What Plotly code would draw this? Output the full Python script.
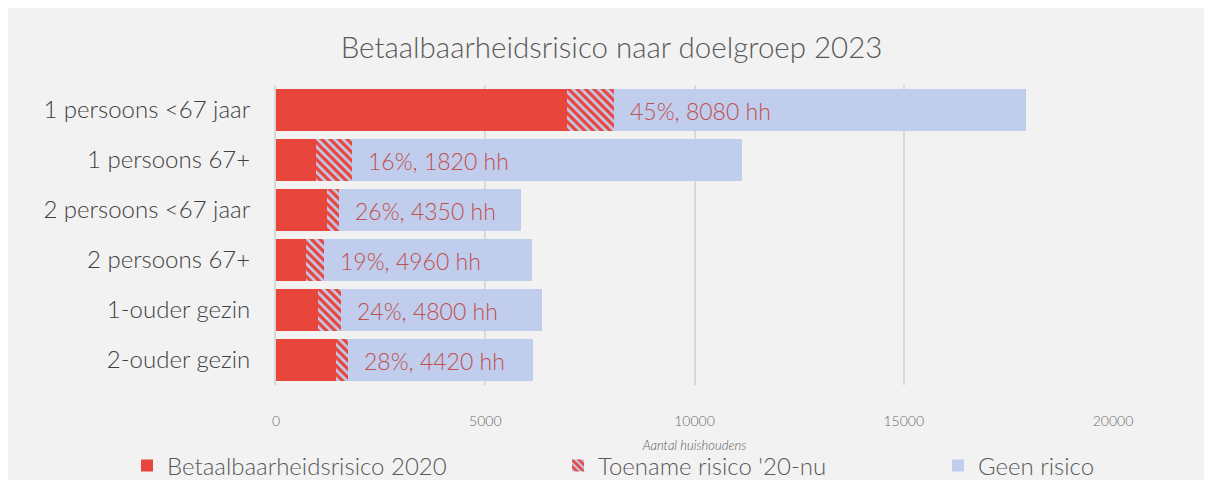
import plotly.graph_objects as go

categories = ["1 persoons <67 jaar", "1 persoons 67+", "2 persoons <67 jaar",
              "2 persoons 67+", "1-ouder gezin", "2-ouder gezin"]
risk_2020 = [6950, 960, 1220, 720, 1000, 1430]
increase = [1130, 860, 290, 430, 550, 290]
no_risk = [9840, 9320, 4350, 4960, 4800, 4420]
labels = ["45%, 8080 hh", "16%, 1820 hh", "26%, 4350 hh",
          "19%, 4960 hh", "24%, 4800 hh", "28%, 4420 hh"]
x_ticks = [0, 5000, 10000, 15000, 20000]
x_tick_text = ["0", "5000", "10000", "15000", "20000"]

RED = "#E8453C"
BLUE = "#C1CDED"
FONT = "Lato"

fig = go.Figure()
fig.add_trace(go.Bar(
    y=categories, x=risk_2020, orientation="h", name="Betaalbaarheidsrisico 2020",
    marker=dict(color=RED, line=dict(width=0)), legend="legend",
))
fig.add_trace(go.Bar(
    y=categories, x=increase, orientation="h", name="Toename risico '20-nu",
    marker=dict(color=BLUE, line=dict(width=0),
                pattern=dict(shape="\\", fgcolor=RED, bgcolor=BLUE, size=6,
                             solidity=0.55, fgopacity=1)),
    legend="legend2",
))
fig.add_trace(go.Bar(
    y=categories, x=no_risk, orientation="h", name="Geen risico",
    marker=dict(color=BLUE, line=dict(width=0)), legend="legend3",
))

for cat, r, inc, lab in zip(categories, risk_2020, increase, labels):
    fig.add_annotation(x=r + inc, y=cat, text=lab, showarrow=False,
                       xanchor="left", xshift=14, yshift=-1,
                       font=dict(family=FONT, size=23, color="#C0504D", weight=300))

# page body adds ~8px offset; layout coordinates below are figure coordinates
L, R, T, B = 268, 1105, 77, 377
W, H = 1212, 480

legend_common = dict(orientation="h", yanchor="middle", xanchor="left",
                     bgcolor="rgba(0,0,0,0)",
                     font=dict(family=FONT, size=24, color="#595959", weight=300),
                     itemwidth=30)

def lx(px):
    return (px - 8 - L) / float(R - L)

ly = (B - 458) / float(B - T)

fig.update_layout(
    width=W, height=H,
    paper_bgcolor="#F2F2F2", plot_bgcolor="#F2F2F2",
    barmode="stack", bargap=0.16,
    margin=dict(l=L, r=W - R, t=T, b=H - B, autoexpand=False),
    title=dict(text="Betaalbaarheidsrisico naar doelgroep 2023", x=0.498, xanchor="center",
               y=1 - 40 / 480, yanchor="middle",
               font=dict(family=FONT, size=29.5, color="#595959", weight=300)),
    xaxis=dict(range=[0, 20000], tickvals=x_ticks, ticktext=x_tick_text,
               showgrid=True, gridcolor="#D9D9D9",
               gridwidth=2, zeroline=False, showline=False, ticks="",
               tickfont=dict(family=FONT, size=14, color="#6B6B6B", weight=300),
               ticklabelstandoff=26,
               title=dict(text="<i>Aantal huishoudens</i>", standoff=12,
                          font=dict(family=FONT, size=13, color="#595959", weight=300))),
    yaxis=dict(autorange="reversed", showline=True, linecolor="#D9D9D9", linewidth=2,
               ticks="", ticklabelstandoff=19,
               tickfont=dict(family=FONT, size=24, color="#404040", weight=300)),
    legend=dict(x=lx(127), y=ly, **legend_common),
    legend2=dict(x=lx(558), y=ly, **legend_common),
    legend3=dict(x=lx(938), y=ly, **legend_common),
    showlegend=True,
)

fig.write_html("out.html")
